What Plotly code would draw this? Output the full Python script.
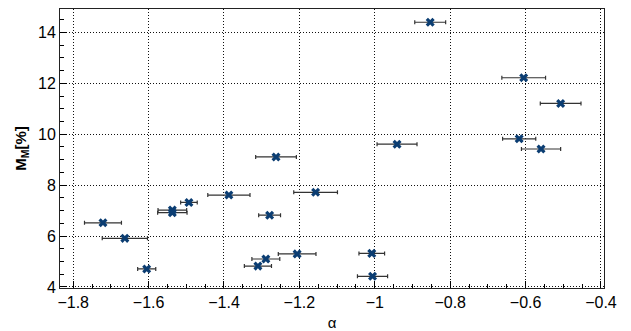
import plotly.graph_objects as go

# data
alpha = [-0.853, -0.605, -0.507, -0.617, -0.559, -0.941, -1.262, -1.387, -1.157,
         -1.493, -1.537, -1.537, -1.279, -1.721, -1.663, -1.605, -1.206, -1.289,
         -1.310, -1.008, -1.006]
alpha_err = [0.041, 0.058, 0.054, 0.044, 0.052, 0.053, 0.054, 0.056, 0.058,
             0.022, 0.038, 0.039, 0.029, 0.049, 0.060, 0.024, 0.050, 0.037,
             0.036, 0.034, 0.040]
mm = [14.40, 12.22, 11.21, 9.82, 9.42, 9.61, 9.11, 7.61, 7.72,
      7.32, 7.02, 6.92, 6.82, 6.52, 5.91, 4.71, 5.30, 5.10,
      4.82, 5.32, 4.42]

x_ticks = [-1.8, -1.6, -1.4, -1.2, -1.0, -0.8, -0.6, -0.4]
x_labels = ["−1.8", "−1.6", "−1.4", "−1.2", "−1", "−0.8", "−0.6", "−0.4"]
y_ticks = [4, 6, 8, 10, 12, 14]

fig = go.Figure()
fig.add_trace(go.Scatter(
    x=alpha, y=mm, mode="markers",
    marker=dict(symbol="x", size=8, color="#0b3d72", line=dict(width=0)),
    error_x=dict(type="data", array=alpha_err, visible=True, color="#333333",
                 thickness=1.2, width=2),
    showlegend=False,
))

font = "Liberation Sans"
fig.update_layout(
    width=631, height=331,
    margin=dict(l=60, r=27, t=9, b=43),
    paper_bgcolor="white", plot_bgcolor="white",
    font=dict(family=font, size=15, color="black"),
    xaxis=dict(
        range=[-1.835, -0.392], tickvals=x_ticks, ticktext=x_labels,
        showline=True, mirror=True, linecolor="#222222", linewidth=1,
        ticks="inside", ticklen=7, tickcolor="black",
        minor=dict(dtick=0.05, tick0=-1.8, ticks="inside", ticklen=4, tickcolor="black"),
        showgrid=True, gridcolor="#111111", gridwidth=1, griddash="1px,2px",
        zeroline=False, automargin=False,
        title=dict(text="α", font=dict(family=font, size=15), standoff=16),
        tickfont=dict(family=font, size=16),
    ),
    yaxis=dict(
        range=[3.96, 14.92], tickvals=y_ticks,
        showline=True, mirror=True, linecolor="#222222", linewidth=1,
        ticks="inside", ticklen=7, tickcolor="black",
        minor=dict(dtick=0.5, tick0=4, ticks="inside", ticklen=4, tickcolor="black"),
        showgrid=True, gridcolor="#111111", gridwidth=1, griddash="1px,2px",
        zeroline=False, automargin=False,
        title=dict(text="<b>M<sub>M</sub>[%]</b>", font=dict(family=font, size=15), standoff=7),
        tickfont=dict(family=font, size=16),
    ),
)

fig.write_html("out.html")
